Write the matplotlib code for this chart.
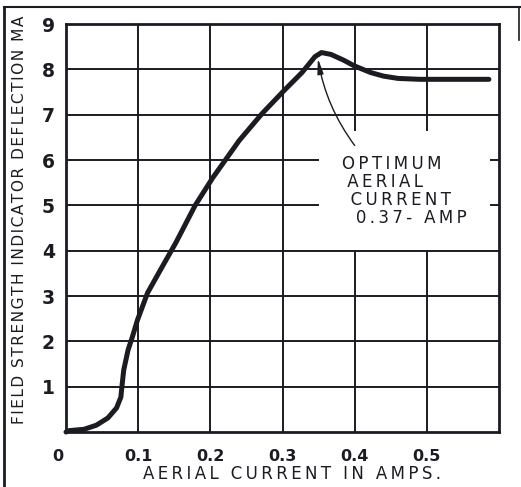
import numpy as np
import matplotlib
matplotlib.use("Agg")
import matplotlib.pyplot as plt
from matplotlib.lines import Line2D
from matplotlib.transforms import ScaledTranslation

# curve
current = [0, 0.004, 0.025, 0.042, 0.058, 0.070, 0.076, 0.078, 0.080, 0.086,
           0.092, 0.099, 0.113, 0.131, 0.152, 0.179, 0.203, 0.240, 0.272,
           0.302, 0.327, 0.345, 0.354, 0.367, 0.385, 0.399, 0.422, 0.44,
           0.46, 0.49, 0.53, 0.586]
deflection = [0, 0.03, 0.06, 0.15, 0.31, 0.53, 0.77, 1.08, 1.37, 1.81,
              2.1, 2.47, 3.07, 3.58, 4.17, 5.0, 5.6, 6.43, 7.03,
              7.53, 7.93, 8.28, 8.37, 8.33, 8.2, 8.08, 7.93, 7.85,
              7.8, 7.78, 7.78, 7.78]

x_ticks = [0, 0.1, 0.2, 0.3, 0.4, 0.5]
x_labels = ["0", "0.1", "0.2", "0.3", "0.4", "0.5"]
y_ticks = [1, 2, 3, 4, 5, 6, 7, 8, 9]

peak_at = (0.349, 8.24)
note_at = (0.400, 6.32)
note_lines = ["OPTIMUM", "AERIAL", "CURRENT", "0.37- AMP"]
note_indent = ["", " ", " \u2009", "  \u2009"]

ink = "#1b1b22"


def spaced(s, gap="\u2009"):
    # the old lettering is widely spaced
    return gap.join(s)


fig = plt.figure(figsize=(5.21, 4.87), dpi=100)
ax = fig.add_axes([0.1267, 0.1129, 0.8311, 0.8378])

ax.plot(current, deflection, color=ink, lw=3.6, solid_capstyle="round",
        solid_joinstyle="round", zorder=4, clip_on=False)

ax.set_xlim(0, 0.6)
ax.set_ylim(0, 9)
ax.set_xticks(x_ticks)
ax.set_xticklabels(x_labels)
ax.set_yticks(y_ticks)
ax.grid(True, color=ink, lw=1.4)
ax.tick_params(length=0, colors=ink)
ax.tick_params(axis="y", pad=8, labelsize=13.5)
ax.tick_params(axis="x", pad=12, labelsize=11.5)
for lab in ax.get_xticklabels() + ax.get_yticklabels():
    lab.set_fontweight("bold")
# the zero sits a little left of the axis corner
ax.get_xticklabels()[0].set_transform(
    ax.get_xticklabels()[0].get_transform()
    + ScaledTranslation(-8 / 100, 0, fig.dpi_scale_trans))
for sp in ax.spines.values():
    sp.set_linewidth(2.0)
    sp.set_color(ink)

ax.set_xlabel(spaced("AERIAL CURRENT IN AMPS."), fontsize=12, color=ink)
ax.xaxis.set_label_coords(0.522, -0.082)
ax.set_ylabel(spaced("FIELD STRENGTH INDICATOR DEFLECTION MA", "\u200a"),
              fontsize=11.1, color=ink)
ax.yaxis.set_label_coords(-0.09, 0.52)

note = "\n".join(ind + spaced(t) for ind, t in zip(note_indent, note_lines))
ax.text(note_at[0] - 0.017, note_at[1] - 0.2, note, fontsize=12,
        color=ink, ha="left", va="top", linespacing=1.0, zorder=3,
        bbox=dict(boxstyle="square,pad=1.4", fc="white", ec="none"))
ax.annotate("", xy=peak_at, xytext=note_at, zorder=5,
            arrowprops=dict(arrowstyle="-|>,head_length=0.9,head_width=0.18",
                            color=ink, lw=1.0, shrinkA=0, shrinkB=0,
                            connectionstyle="arc3,rad=-0.12"))

# page border from the scan
fig.add_artist(Line2D([4 / 521, 4 / 521], [0, 1 - 7 / 487], color=ink, lw=2))
fig.add_artist(Line2D([4 / 521, 1], [1 - 7 / 487, 1 - 7 / 487], color=ink, lw=1.5))
fig.add_artist(Line2D([519 / 521, 519 / 521], [1 - 7 / 487, 1 - 40 / 487],
                      color=ink, lw=1.2))

fig.savefig("out.png", dpi=100, facecolor="white")
